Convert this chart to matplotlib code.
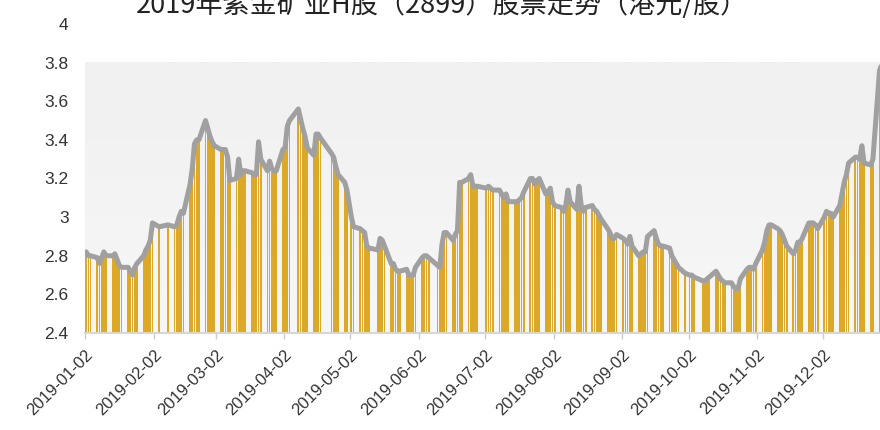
import numpy as np
import pandas as pd
import matplotlib
matplotlib.use("Agg")
import matplotlib.pyplot as plt
import matplotlib.dates as mdates

plt.rcParams['font.family'] = ['Liberation Sans', 'DejaVu Sans']

title = "2019年紫金矿业H股（2899）股票走势（港元/股）"

# HK market holidays 2019 (weekdays)
holidays = ["2019-02-05", "2019-02-06", "2019-02-07", "2019-04-05", "2019-04-19",
            "2019-04-22", "2019-05-01", "2019-05-13", "2019-06-07", "2019-07-01",
            "2019-10-01", "2019-10-07", "2019-12-25", "2019-12-26"]

# closing prices, month by month (HKD)
jan = [2.82, 2.80, 2.80, 2.79, 2.76, 2.79, 2.82, 2.80, 2.80, 2.81, 2.78, 2.75, 2.74, 2.74,
       2.72, 2.70, 2.74, 2.76, 2.80, 2.83, 2.85, 2.88]
feb = [2.97, 2.95, 2.96, 2.95, 2.96, 3.00, 3.03, 3.02, 3.17, 3.25, 3.38, 3.40, 3.40, 3.50,
       3.46, 3.42, 3.39]
mar = [3.37, 3.35, 3.35, 3.35, 3.31, 3.19, 3.20, 3.30, 3.22, 3.24, 3.24, 3.23, 3.22, 3.22,
       3.39, 3.30, 3.24, 3.29, 3.25, 3.24, 3.24]
apr = [3.35, 3.36, 3.47, 3.50, 3.56, 3.51, 3.46, 3.42, 3.36, 3.32, 3.43, 3.43, 3.41, 3.33,
       3.31, 3.26, 3.22, 3.18, 3.14]
may = [3.00, 2.95, 2.94, 2.93, 2.92, 2.85, 2.84, 2.83, 2.89, 2.88, 2.85, 2.76, 2.76, 2.73,
       2.72, 2.72, 2.73, 2.70, 2.70, 2.70, 2.74]
jun = [2.79, 2.80, 2.80, 2.79, 2.75, 2.74, 2.86, 2.92, 2.92, 2.88, 2.91, 2.93, 3.18, 3.18,
       3.20, 3.22, 3.16, 3.16, 3.16]
jul = [3.15, 3.16, 3.15, 3.14, 3.14, 3.12, 3.10, 3.12, 3.08, 3.08, 3.08, 3.09, 3.10, 3.13,
       3.20, 3.20, 3.17, 3.19, 3.20, 3.12, 3.13, 3.15]
aug = [3.08, 3.06, 3.05, 3.03, 3.06, 3.14, 3.08, 3.04, 3.16, 3.06, 3.03, 3.05, 3.06, 3.04,
       3.03, 3.01, 2.99, 2.94, 2.92, 2.89, 2.89, 2.91]
sep = [2.89, 2.88, 2.86, 2.90, 2.85, 2.80, 2.81, 2.82, 2.82, 2.90, 2.93, 2.89, 2.86, 2.85,
       2.85, 2.84, 2.80, 2.78, 2.76, 2.74, 2.71]
oct_ = [2.70, 2.70, 2.69, 2.67, 2.67, 2.68, 2.69, 2.72, 2.70, 2.68, 2.67, 2.66, 2.66, 2.64,
        2.63, 2.63, 2.68, 2.73, 2.74, 2.74, 2.73]
nov = [2.76, 2.83, 2.87, 2.93, 2.96, 2.96, 2.94, 2.93, 2.91, 2.88, 2.85, 2.81, 2.83, 2.87,
       2.87, 2.89, 2.97, 2.97, 2.97, 2.96, 2.94]
dec = [3.00, 3.03, 3.02, 3.02, 3.00, 3.06, 3.12, 3.18, 3.22, 3.28, 3.31, 3.31, 3.30, 3.37,
       3.28, 3.27, 3.30, 3.76, 3.85, 3.89]

prices = jan + feb + mar + apr + may + jun + jul + aug + sep + oct_ + nov + dec
dates = pd.bdate_range("2019-01-02", "2019-12-31")
dates = dates[~dates.isin(pd.to_datetime(holidays))]
tick_dates = pd.date_range("2019-01-01", "2019-12-01", freq="MS") + pd.Timedelta(days=1)

fig = plt.figure(figsize=(8.8, 4.3), dpi=100)
ax = fig.add_axes([85.3 / 880, 97 / 430, 803.3 / 880, 309 / 430])

xmin = mdates.date2num(pd.Timestamp("2019-01-02"))
xmax = xmin + 363.5
ax.set_xlim(xmin, xmax)
ax.set_ylim(2.4, 4.0)

# soft grey background, only up to 3.8
grad = np.linspace(0, 1, 100).reshape(-1, 1)
ax.imshow(grad, extent=[xmin, xmax, 2.4, 3.8], aspect='auto', origin='lower',
          cmap=matplotlib.colors.LinearSegmentedColormap.from_list('g', ['#F7F7F7', '#F0F0F0']),
          zorder=0)

xd = mdates.date2num(dates)
ax.bar(xd, np.array(prices) - 2.4, bottom=2.4, width=0.8, align='edge',
       color='#DBA827', edgecolor='none', zorder=2)
ax.plot(xd + 0.4, prices, color='#A0A0A0', lw=3.6, solid_joinstyle='round',
        solid_capstyle='round', zorder=3)

for s in ['left', 'right', 'top']:
    ax.spines[s].set_visible(False)
ax.spines['bottom'].set_color('#D6D6D6')
ax.spines['bottom'].set_linewidth(1.5)
ax.spines['bottom'].set_zorder(4)

yt = np.arange(2.4, 4.01, 0.2)
ax.set_yticks(yt)
ax.set_yticklabels(['%g' % round(v, 1) for v in yt])
ax.tick_params(axis='y', length=0, pad=12, labelsize=12.5, labelcolor='#333333')

ax.set_xticks(mdates.date2num(tick_dates))
ax.set_xticklabels([d.strftime("%Y-%m-%d") for d in tick_dates], rotation=45,
                   ha='right', rotation_mode='anchor')
ax.tick_params(axis='x', length=4, width=1, color='#CCCCCC', pad=6, labelsize=12,
               labelcolor='#333333')

fig.text(0.502, 0.988, title, ha='center', va='center', fontsize=19.5,
         family=['Noto Sans CJK SC', 'DejaVu Sans'], color='#222222')

fig.savefig("out.png", dpi=100)
